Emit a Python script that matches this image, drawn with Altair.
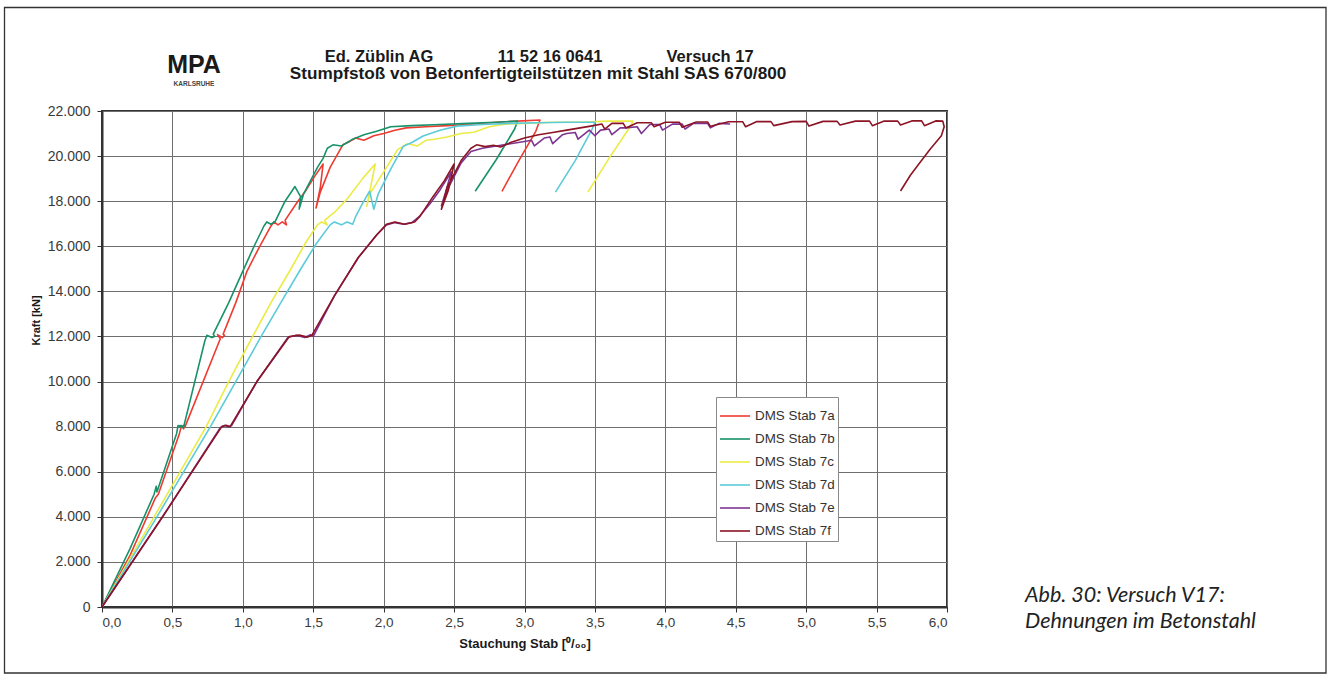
import altair as alt
import pandas as pd

# Strain gauge readings (DMS) on bars 7a-7f: compression strain [per mille] vs. force [kN]
series_names = ["DMS Stab 7a", "DMS Stab 7b", "DMS Stab 7c", "DMS Stab 7d", "DMS Stab 7e", "DMS Stab 7f"]
series_colors = ["#ee3b32", "#17926a", "#eceb45", "#5ccbd9", "#7d3592", "#8c1424"]
series_widths = [1.6, 1.6, 1.6, 1.6, 2.0, 2.2]

x_7a = [0, 0.20, 0.38, 0.40, 0.55, 0.565, 0.58, 0.585, 0.59, 0.84, 0.82, 0.855, 0.87, 0.86, 0.95, 1.03,
        1.12, 1.20, 1.22, 1.25, 1.28, 1.31, 1.30, 1.38, 1.45, 1.51, 1.57, 1.55, 1.52, 1.55, 1.62, 1.71,
        1.76, 1.80, 1.86, 1.93, 2.00, 2.08, 2.16, 2.30, 2.45, 2.60, 2.80, 2.95, 3.11, 3.08, 2.96, 2.84]
y_7a = [0, 2300, 4850, 5000, 7700, 8050, 7900, 8080, 8000, 11900, 12080, 11950, 12050, 12100, 13500, 14900,
        16000, 16900, 17080, 16950, 17080, 16950, 17150, 17900, 18500, 19100, 19650, 18600, 17700, 18400, 19500, 20500,
        20650, 20800, 20700, 20900, 21000, 21150, 21250, 21300, 21350, 21400, 21500, 21550, 21600, 21100, 19800, 18440]

x_7b = [0, 0.20, 0.37, 0.385, 0.39, 0.53, 0.54, 0.575, 0.555, 0.58, 0.73, 0.745, 0.78, 0.80, 0.79, 0.90,
        1.00, 1.08, 1.15, 1.17, 1.20, 1.23, 1.30, 1.37, 1.41, 1.40, 1.43, 1.48, 1.53, 1.57, 1.60, 1.64,
        1.70, 1.78, 1.86, 1.95, 2.05, 2.20, 2.40, 2.60, 2.80, 2.95, 2.93, 2.80, 2.65]
y_7b = [0, 2600, 5000, 5350, 5100, 7700, 8050, 7950, 8050, 8000, 11800, 12050, 11950, 12000, 12100, 13500,
        14900, 16000, 16900, 17080, 16980, 17100, 18000, 18650, 18200, 17650, 18300, 18900, 19500, 19900, 20350, 20500,
        20450, 20750, 20950, 21100, 21300, 21350, 21400, 21450, 21500, 21550, 21200, 19850, 18440]

x_7c = [0, 0.37, 0.74, 0.90, 1.07, 1.20, 1.34, 1.45, 1.53, 1.56, 1.60, 1.58, 1.65, 1.74, 1.85, 1.94,
        1.91, 1.88, 1.90, 2.00, 2.10, 2.17, 2.24, 2.30, 2.36, 2.45, 2.55, 2.64, 2.75, 2.87, 3.00, 3.20,
        3.40, 3.60, 3.77, 3.75, 3.60, 3.45]
y_7c = [0, 4000, 8000, 10000, 12000, 13500, 14980, 16200, 16950, 17080, 16950, 17150, 17500, 18100, 19000, 19650,
        18700, 17780, 18300, 19300, 20300, 20550, 20450, 20700, 20750, 20850, 21000, 21060, 21300, 21420, 21450, 21500,
        21500, 21550, 21550, 21300, 19900, 18400]

x_7d = [0, 0.39, 0.77, 0.95, 1.13, 1.27, 1.41, 1.52, 1.62, 1.65, 1.70, 1.74, 1.78, 1.80, 1.85, 1.90,
        1.93, 1.96, 2.05, 2.14, 2.20, 2.28, 2.40, 2.52, 2.70, 2.90, 3.10, 3.30, 3.50, 3.48, 3.36, 3.22]
y_7d = [0, 4000, 8000, 10000, 12000, 13500, 14980, 16100, 16950, 17080, 16950, 17080, 16980, 17300, 17900, 18440,
        17640, 18300, 19420, 20440, 20600, 20890, 21150, 21330, 21400, 21450, 21480, 21500, 21500, 21200, 19800, 18400]

x_7e = [0, 0.43, 0.84, 0.87, 0.90, 0.92, 1.10, 1.32, 1.38, 1.44, 1.48, 1.50, 1.65, 1.82, 1.95, 2.02,
        2.08, 2.14, 2.20, 2.25, 2.33, 2.40, 2.48, 2.44, 2.41, 2.46, 2.55, 2.62, 2.70, 2.80, 2.90, 3.00,
        3.05, 3.07, 3.14, 3.18, 3.20, 3.27, 3.30, 3.36, 3.38, 3.46, 3.50, 3.54, 3.60, 3.62, 3.68, 3.72,
        3.80, 3.83, 3.89, 3.96, 3.98, 4.05, 4.12, 4.14, 4.20, 4.30, 4.32, 4.38, 4.46]
y_7e = [0, 4000, 7950, 8050, 7980, 8050, 10000, 11950, 12050, 11950, 12080, 12000, 13800, 15500, 16500, 16950,
        17050, 16980, 17050, 17300, 17900, 18500, 19300, 18400, 17800, 18600, 19700, 20200, 20350, 20450, 20550, 20650,
        20700, 20450, 20800, 20850, 20550, 20950, 21000, 21050, 20750, 21150, 20900, 21150, 21200, 20950, 21250, 21250,
        21300, 21000, 21400, 21400, 21150, 21420, 21420, 21200, 21450, 21450, 21250, 21450, 21420]

x_7f = [0, 0.43, 0.85, 0.88, 0.91, 1.10, 1.33, 1.40, 1.46, 1.49, 1.65, 1.82, 1.95, 2.02, 2.08, 2.15,
        2.22, 2.26, 2.35, 2.43, 2.50, 2.46, 2.41, 2.45, 2.55, 2.62, 2.66, 2.72, 2.78, 2.83, 2.90, 3.00,
        3.10, 3.20, 3.30, 3.47, 3.55, 3.57, 3.62, 3.70, 3.72, 3.80, 3.90, 3.92, 4.00, 4.10, 4.12, 4.22,
        4.30, 4.32, 4.45, 4.55, 4.57, 4.65, 4.75, 4.77, 4.90, 5.00, 5.02, 5.12, 5.22, 5.24, 5.35, 5.45,
        5.47, 5.55, 5.65, 5.67, 5.75, 5.82, 5.84, 5.92, 5.97, 5.98, 5.96, 5.88, 5.80, 5.74, 5.67]
y_7f = [0, 4000, 8000, 8060, 8000, 10000, 12000, 12060, 11970, 12050, 13800, 15500, 16500, 16980, 17080, 16980,
        17080, 17350, 18200, 18900, 19650, 18500, 17640, 18600, 19800, 20350, 20500, 20420, 20480, 20400, 20600, 20800,
        20950, 21050, 21150, 21330, 21420, 21200, 21450, 21460, 21250, 21480, 21480, 21300, 21500, 21500, 21280, 21510,
        21510, 21320, 21520, 21520, 21300, 21530, 21530, 21350, 21530, 21540, 21330, 21540, 21540, 21380, 21550, 21550,
        21350, 21550, 21550, 21380, 21560, 21560, 21350, 21560, 21550, 21300, 20900, 20300, 19650, 19150, 18450]

x_ticks = [0.0, 0.5, 1.0, 1.5, 2.0, 2.5, 3.0, 3.5, 4.0, 4.5, 5.0, 5.5, 6.0]
y_ticks = [0, 2000, 4000, 6000, 8000, 10000, 12000, 14000, 16000, 18000, 20000, 22000]

all_x = [x_7a, x_7b, x_7c, x_7d, x_7e, x_7f]
all_y = [y_7a, y_7b, y_7c, y_7d, y_7e, y_7f]

rows = []
for name, xs, ys in zip(series_names, all_x, all_y):
    for i, (xv, yv) in enumerate(zip(xs, ys)):
        rows.append({"series": name, "strain": xv, "force": yv, "step": i})
df = pd.DataFrame(rows)

FONT = "Liberation Sans"
W, H = 845, 496

lines = alt.Chart(df).mark_line(clip=True, strokeJoin="round").encode(
    x=alt.X("strain:Q",
            scale=alt.Scale(domain=[0, 6], nice=False, zero=False),
            axis=alt.Axis(values=x_ticks, title="Stauchung Stab [⁰/₀₀]",
                          labelExpr="replace(format(datum.value, '.1f'), '.', ',')",
                          titleFontSize=13, titleY=30)),
    y=alt.Y("force:Q",
            scale=alt.Scale(domain=[0, 22000], nice=False),
            axis=alt.Axis(values=y_ticks, title="Kraft [kN]",
                          labelExpr="replace(format(datum.value, ','), ',', '.')",
                          titleFontSize=11, titleX=-66, titleY=209,
                          titleAngle=270, titleAlign="center", titleBaseline="middle")),
    color=alt.Color("series:N",
                    scale=alt.Scale(domain=series_names, range=series_colors),
                    legend=alt.Legend(title=None, orient="none", legendX=614, legendY=286,
                                      symbolType="stroke", symbolSize=900, symbolStrokeWidth=1.6,
                                      labelFontSize=13.4, labelColor="#333", labelFont=FONT,
                                      fillColor="white", strokeColor="#8a8a8a",
                                      padding=3, rowPadding=0, labelOffset=4)),
    strokeWidth=alt.StrokeWidth("series:N",
                                scale=alt.Scale(domain=series_names, range=series_widths),
                                legend=None),
    order="step:Q",
)

def label(txt, x, y, size, bold=True, color="#1a1a1a", align="center", italic=False, font=FONT):
    return alt.Chart().mark_text(
        text=txt, fontSize=size, fontWeight="bold" if bold else "normal",
        fontStyle="italic" if italic else "normal", font=font, color=color,
        align=align, baseline="alphabetic",
    ).encode(x=alt.value(x), y=alt.value(y))

header = [
    label("MPA", 92, -38, 25),
    label("KARLSRUHE", 92, -25, 6.5, color="#444"),
    label("Ed. Züblin AG", 277, -49, 16.5),
    label("11 52 16 0641", 448, -49, 16.5),
    label("Versuch 17", 608, -49, 16.5),
    label("Stumpfstoß von Betonfertigteilstützen mit Stahl SAS 670/800", 436, -32, 17.2),
    label("Abb. 30: Versuch V17:", 923, 491, 21.5, bold=False, italic=True, align="left", color="#222", font="Lato"),
    label("Dehnungen im Betonstahl", 923, 517, 21.5, bold=False, italic=True, align="left", color="#222", font="Lato"),
]

frame = alt.Chart().mark_rect(filled=False, stroke="#333", strokeWidth=1.3).encode(
    x=alt.value(-97.5), x2=alt.value(1224), y=alt.value(-103.5), y2=alt.value(562)
)

chart = alt.layer(lines, frame, *header).properties(
    width=W, height=H,
    padding={"left": 102, "top": 111, "right": 1334 - 102 - W, "bottom": 682 - 111 - H},
    autosize=alt.AutoSizeParams(type="none"),
).configure_view(
    stroke="#333", strokeWidth=2
).configure_axis(
    grid=True, gridColor="#6e6e6e", gridWidth=1, gridOpacity=1,
    domainColor="#333", domainWidth=2, tickColor="#333", tickSize=5,
    labelFont=FONT, labelFontSize=13.5, labelColor="#3a3a3a",
    titleFont=FONT, titleFontWeight="bold", titleColor="#1a1a1a",
).configure_axisY(labelPadding=7, labelFontSize=14).configure_axisX(labelPadding=3)

chart.save("out.html", embed_options={"renderer": "svg", "actions": False})
